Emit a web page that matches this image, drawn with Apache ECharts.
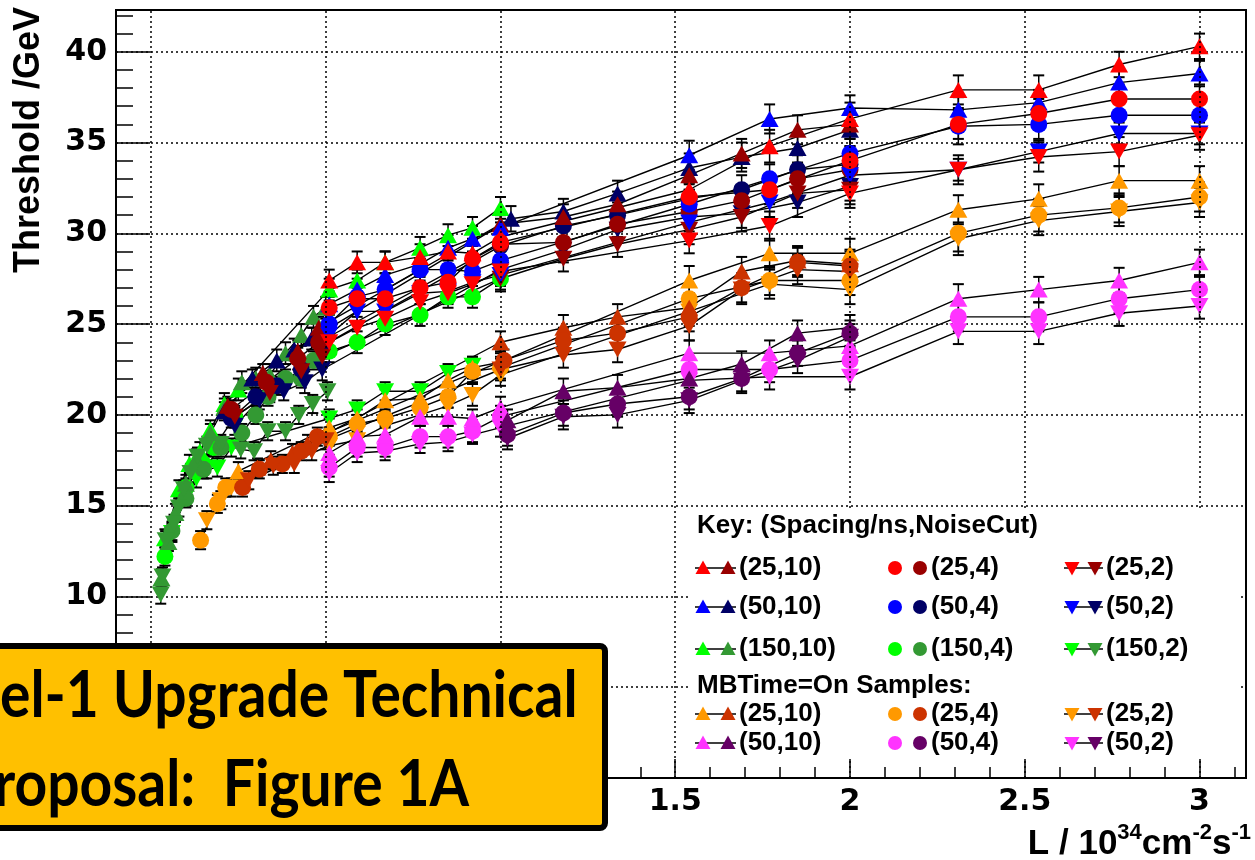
<!DOCTYPE html>
<html><head><meta charset="utf-8">
<script src="https://cdn.jsdelivr.net/npm/echarts@6/dist/echarts.min.js"></script>
<style>html,body{margin:0;padding:0;background:#fff}#c{width:1255px;height:860px}</style>
</head><body><div id="c"></div><script>
// ---------- DATA: [L (1e34 cm-2 s-1), threshold (GeV), error] ----------
// Standard samples, bright shade
const red10  = [[.51,27.4,.6],[.59,28.4,.6],[.67,28.4,.6],[.77,28.7,.7],[.85,29.0,.7],[.92,28.9,.7],[1.0,29.8,.8],[1.54,32.4,.9],[1.77,34.8,.9],[2.0,36.3,.9],[2.31,37.9,.8],[2.54,37.9,.8],[2.77,39.3,.7],[3.0,40.3,.7]];
const red4   = [[.51,25.9,.6],[.59,26.4,.6],[.67,26.4,.6],[.77,27.0,.6],[.85,27.3,.6],[.92,28.6,.7],[1.0,29.5,.7],[1.54,32.0,.8],[1.77,32.4,.8],[2.0,34.0,.8],[2.31,36.0,.8],[2.54,36.6,.8],[2.77,37.4,.8],[3.0,37.4,.8]];
const red2   = [[.51,24.0,.6],[.59,24.8,.6],[.67,25.3,.6],[.77,26.2,.6],[.85,26.7,.6],[.92,27.2,.6],[1.0,27.9,.7],[1.54,29.6,.7],[1.77,30.4,.8],[2.0,32.2,.8],[2.31,33.5,.8],[2.54,34.2,.8],[2.77,34.5,.8],[3.0,35.4,.8]];
const blue10 = [[.51,26.1,.6],[.59,26.9,.6],[.67,27.7,.6],[.77,28.3,.6],[.85,29.2,.7],[.92,29.7,.7],[1.0,30.3,.7],[1.54,34.3,.8],[1.77,36.3,.8],[2.0,36.9,.7],[2.31,36.8,.7],[2.54,37.2,.7],[2.77,38.3,.7],[3.0,38.8,.7]];
const blue4  = [[.51,25.0,.6],[.59,26.5,.6],[.67,26.9,.6],[.77,28.0,.6],[.85,28.0,.6],[.92,27.9,.6],[1.0,28.5,.7],[1.54,31.6,.8],[1.77,33.0,.8],[2.0,34.4,.8],[2.31,35.9,1.0],[2.54,36.0,.8],[2.77,36.5,.8],[3.0,36.5,.8]];
const blue2  = [[.51,24.4,.6],[.59,25.7,.6],[.67,25.7,.6],[.77,26.7,.6],[.85,26.8,.6],[.92,27.3,.6],[1.0,27.7,.6],[1.54,30.6,.7],[1.77,31.7,.8],[2.0,33.2,.8],[2.31,33.5,.6],[2.54,34.5,.6],[2.77,35.5,.6],[3.0,35.5,.6]];
const green10 = [[.04,13.2,.5],[.08,15.9,.5],[.11,17.3,.5],[.14,18.0,.5],[.17,19.2,.5],[.21,20.6,.6],[.25,21.4,.6],[.51,26.9,.6],[.59,27.4,.6],[.67,28.4,.6],[.77,29.2,.6],[.85,29.9,.6],[.92,30.3,.6],[1.0,31.4,.6]];
const green4  = [[.04,12.2,.5],[.10,16.0,.5],[.15,17.3,.5],[.18,18.2,.5],[.24,19.9,.6],[.51,23.5,.6],[.59,24.0,.6],[.67,25.0,.6],[.77,25.5,.6],[.85,26.5,.6],[.92,26.5,.6],[1.0,27.5,.6]];
const green2  = [[.06,13.5,.5],[.10,15.5,.5],[.13,16.5,.5],[.16,17.0,.5],[.19,17.1,.5],[.23,18.2,.5],[.51,19.8,.5],[.59,20.3,.5],[.67,21.3,.5],[.77,21.3,.5],[.85,22.3,.5],[.92,22.7,.5]];
// Standard samples, dark shade
const redD10 = [[.22,20.5,.5],[.32,22.3,.5],[.42,23.5,.6],[.48,24.8,.6],[1.0,30.5,.7],[1.18,30.9,.7],[1.335,31.6,.7],[1.54,33.2,.8],[1.69,34.4,.8],[1.85,35.7,.8],[2.0,36.0,.8]];
const redD4  = [[.23,20.3,.5],[.33,21.8,.5],[.42,23.1,.6],[.48,24.0,.6],[1.0,29.4,.7],[1.18,29.5,.7],[1.335,30.5,.7],[1.54,31.2,.8],[1.69,31.8,.8],[1.85,33.0,.8],[2.0,33.5,.8]];
const redD2  = [[.24,19.9,.5],[.34,21.2,.5],[.43,22.4,.6],[.49,23.2,.6],[1.0,27.5,.7],[1.18,28.6,.7],[1.335,29.4,.7],[1.54,30.2,.8],[1.69,30.9,.8],[1.85,32.2,.8],[2.0,32.4,.8]];
const navy10 = [[.21,20.2,.5],[.29,22.0,.5],[.36,23.0,.6],[.41,23.6,.6],[.46,24.2,.6],[1.03,30.8,.7],[1.18,31.2,.7],[1.335,32.2,.7],[1.54,33.6,.8],[1.69,34.2,.8],[1.85,34.7,.8],[2.0,35.7,.9]];
const navy4  = [[.23,19.8,.5],[.30,21.0,.5],[.36,21.6,.5],[.43,22.5,.6],[.49,23.8,.6],[1.0,29.3,.7],[1.18,30.4,.7],[1.335,31.0,.7],[1.54,31.9,.8],[1.69,32.4,.8],[1.85,33.5,.8],[2.0,33.8,.8]];
const navy2  = [[.24,19.4,.5],[.31,20.8,.5],[.38,21.3,.5],[.44,21.8,.6],[.49,22.5,.6],[1.0,28.0,.7],[1.18,29.1,.7],[1.335,30.2,.7],[1.54,30.9,.8],[1.69,31.1,.8],[1.85,31.7,.8],[2.0,32.6,.8]];
const greenD10 = [[.03,11.0,.5],[.05,13.0,.5],[.07,14.6,.5],[.10,16.2,.5],[.13,17.6,.5],[.17,19.0,.5],[.21,20.4,.5],[.26,21.8,.6],[.30,22.0,.6],[.34,22.2,.6],[.385,23.4,.6],[.43,24.4,.6],[.465,25.4,.6],[.50,25.9,.6]];
const greenD4  = [[.06,13.6,.5],[.10,15.4,.5],[.15,17.0,.5],[.20,18.2,.5],[.26,19.0,.5],[.30,20.0,.5],[.335,21.0,.5],[.385,22.0,.5],[.43,22.0,.5],[.465,23.0,.5]];
const greenD2  = [[.028,10.1,.5],[.033,11.1,.5],[.042,13.1,.5],[.066,14.0,.5],[.08,14.9,.5],[.094,15.9,.5],[.113,16.8,.5],[.133,17.7,.5],[.16,18.3,.5],[.20,18.4,.5],[.257,18.1,.5],[.295,18.0,.5],[.334,19.1,.5],[.385,19.1,.5],[.423,20.0,.5],[.463,20.6,.5],[.505,21.3,.5]];
// MBTime=On samples
const orange10 = [[.25,16.9,.5],[.51,19.3,.5],[.59,19.8,.5],[.67,20.8,.6],[.77,20.9,.6],[.85,21.9,.6],[.92,22.6,.6],[1.0,22.9,.6],[1.54,27.4,.8],[1.77,28.9,.8],[2.0,28.9,.8],[2.31,31.3,.8],[2.54,31.9,.8],[2.77,32.9,.8],[3.0,32.9,.8]];
const orange4  = [[.142,13.1,.5],[.19,15.1,.5],[.214,16.0,.5],[.51,18.8,.5],[.59,19.5,.5],[.67,19.8,.5],[.77,20.4,.6],[.85,21.0,.6],[.92,22.4,.6],[1.0,22.6,.6],[1.54,26.4,.8],[1.77,27.4,.8],[2.0,27.4,.8],[2.31,30.0,1.0],[2.54,31.0,.9],[2.77,31.4,.8],[3.0,32.0,.8]];
const orange2  = [[.16,14.2,.5],[.20,15.3,.5],[.23,16.0,.5],[.51,18.3,.5],[.59,18.6,.5],[.67,19.4,.5],[.77,20.0,.6],[.85,20.5,.6],[.92,21.1,.6],[1.0,22.2,.6],[1.54,25.7,.8],[1.77,27.2,.8],[2.0,26.9,.8],[2.31,29.7,.9],[2.54,30.7,.8],[2.77,31.2,.8],[3.0,31.7,.8]];
const orangeD10 = [[.305,17.1,.5],[.343,17.5,.5],[.405,17.9,.5],[.448,18.4,.5],[1.0,24.0,.6],[1.18,24.8,.7],[1.335,25.4,.7],[1.54,25.9,.8],[1.69,27.9,.8],[1.85,28.5,.8],[2.0,28.3,.8]];
const orangeD4  = [[.262,16.0,.5],[.31,17.0,.5],[.376,17.3,.5],[.43,18.0,.5],[.476,18.8,.5],[1.01,23.0,.6],[1.18,24.1,.7],[1.335,24.5,.7],[1.54,25.4,.8],[1.69,27.0,.8],[1.85,28.4,.8],[2.0,28.2,.8]];
const orangeD2  = [[.28,16.4,.5],[.35,17.2,.5],[.41,17.3,.5],[.46,18.0,.5],[.5,18.6,.5],[1.0,22.5,.6],[1.18,23.3,.7],[1.335,23.6,.7],[1.54,24.9,.8],[1.69,26.9,.8],[1.85,28.0,.8],[2.0,27.9,.8]];
const magenta10 = [[.51,17.9,.5],[.59,18.8,.5],[.67,18.9,.5],[.77,19.9,.5],[.85,19.9,.5],[.92,19.8,.5],[1.0,20.4,.6],[1.54,23.4,.7],[1.77,23.4,.7],[2.0,23.8,.7],[2.31,26.4,.8],[2.54,26.9,.7],[2.77,27.4,.7],[3.0,28.4,.7]];
const magenta4  = [[.51,17.1,.5],[.59,18.2,.5],[.67,18.2,.5],[.77,18.8,.6],[.85,18.8,.6],[.92,19.1,.6],[1.0,19.9,.6],[1.54,22.5,.7],[1.77,22.5,.7],[2.0,23.0,.7],[2.31,25.4,.8],[2.54,25.4,.8],[2.77,26.4,.8],[3.0,26.9,.7]];
const magenta2  = [[.51,16.8,.5],[.59,17.9,.5],[.67,18.0,.5],[.77,18.4,.5],[.85,18.5,.5],[.92,18.9,.5],[1.0,19.3,.5],[1.54,21.9,.7],[1.77,22.1,.7],[2.0,22.1,.7],[2.31,24.6,.7],[2.54,24.6,.7],[2.77,25.6,.7],[3.0,26.0,.7]];
const purple10 = [[1.02,19.7,.6],[1.18,21.3,.7],[1.335,21.5,.7],[1.54,22.0,.7],[1.69,22.8,.7],[1.85,24.5,.7],[2.0,24.8,.7]];
const purple4  = [[1.02,18.9,.6],[1.18,20.1,.7],[1.335,20.6,.7],[1.54,21.0,.7],[1.69,22.0,.7],[1.85,23.4,.7],[2.0,24.5,.7]];
const purple2  = [[1.02,18.7,.6],[1.18,19.9,.7],[1.335,20.0,.7],[1.54,20.8,.7],[1.69,21.9,.7],[1.85,23.0,.7],[2.0,24.3,.7]];

// axis ticks and texts
const xMajorTicks = [0, 0.5, 1, 1.5, 2, 2.5, 3];
const yTitle = 'Threshold /GeV';
const keyTitle = 'Key: (Spacing/ns,NoiseCut)';
const mbTitle = 'MBTime=On Samples:';
const legendStd = [['(25,10)','(25,4)','(25,2)'],['(50,10)','(50,4)','(50,2)'],['(150,10)','(150,4)','(150,2)']];
const legendMB  = [['(25,10)','(25,4)','(25,2)'],['(50,10)','(50,4)','(50,2)']];
const bannerLines = ['el-1 Upgrade Technical', 'roposal:  Figure 1A'];

// ---------- STYLE ----------
const C = {red:'#ff0000', dred:'#990000', blue:'#0000ff', navy:'#000066', green:'#00ff00', dgreen:'#339933',
           orange:'#ff9900', dorange:'#cc3300', mag:'#ff33ff', purple:'#660066'};
const SETS = [
  [green10,C.green,'up'],[green4,C.green,'o'],[green2,C.green,'dn'],
  [greenD10,C.dgreen,'up'],[greenD4,C.dgreen,'o'],[greenD2,C.dgreen,'dn'],
  [orange10,C.orange,'up'],[orange4,C.orange,'o'],[orange2,C.orange,'dn'],
  [orangeD10,C.dorange,'up'],[orangeD4,C.dorange,'o'],[orangeD2,C.dorange,'dn'],
  [magenta10,C.mag,'up'],[magenta4,C.mag,'o'],[magenta2,C.mag,'dn'],
  [purple10,C.purple,'up'],[purple4,C.purple,'o'],[purple2,C.purple,'dn'],
  [navy10,C.navy,'up'],[navy4,C.navy,'o'],[navy2,C.navy,'dn'],
  [redD10,C.dred,'up'],[redD4,C.dred,'o'],[redD2,C.dred,'dn'],
  [blue10,C.blue,'up'],[blue4,C.blue,'o'],[blue2,C.blue,'dn'],
  [red10,C.red,'up'],[red4,C.red,'o'],[red2,C.red,'dn']
];

const series = [];
SETS.forEach(([d, col, shp], i) => {
  series.push({type:'line', data:d.map(p=>[p[0],p[1]]), showSymbol:false, symbol:'none', z:2, silent:true,
    lineStyle:{color:'#000', width:1.4}, animation:false});
});
SETS.forEach(([d, col, shp]) => {
  series.push({type:'custom', data:d, z:3, silent:true, animation:false, encode:{x:0,y:1},
    renderItem:(params, api) => {
      const x = api.value(0), y = api.value(1), e = api.value(2);
      const t = api.coord([x, y+e]), b = api.coord([x, y-e]);
      const w = 5.5;
      return {type:'group', children:[
        {type:'line', shape:{x1:t[0],y1:t[1],x2:b[0],y2:b[1]}, style:{stroke:'#000', lineWidth:1.5}},
        {type:'line', shape:{x1:t[0]-w,y1:t[1],x2:t[0]+w,y2:t[1]}, style:{stroke:'#000', lineWidth:2}},
        {type:'line', shape:{x1:b[0]-w,y1:b[1],x2:b[0]+w,y2:b[1]}, style:{stroke:'#000', lineWidth:2}}
      ]};
    }});
});
SETS.forEach(([d, col, shp]) => {
  series.push({type:'scatter', data:d.map(p=>[p[0],p[1]]), z:4, silent:true, animation:false,
    symbol: shp === 'o' ? 'circle' : 'triangle',
    symbolSize: shp === 'o' ? 17 : [18, 16],
    symbolRotate: shp === 'dn' ? 180 : 0,
    itemStyle:{color:col, opacity:1}});
});
// dotted vertical grid lines at major x ticks
series.push({type:'scatter', data:[], silent:true, animation:false, z:1,
  markLine:{silent:true, symbol:'none', animation:false, label:{show:false},
    lineStyle:{color:'#000', type:[2,3], width:1.5},
    data: xMajorTicks.map(v => ({xAxis:v}))}});

// ---------- GRAPHIC: titles, legend, banner ----------
const LF = 'bold 26px "Liberation Sans", Arial, sans-serif';
const graphic = [];
graphic.push({type:'text', x:29, y:140, rotation:Math.PI/2, z:50,
  style:{text:yTitle, font:'bold 36px "Liberation Sans", Arial, sans-serif', fill:'#000', textAlign:'center', textVerticalAlign:'middle'}});
graphic.push({type:'text', x:1251, y:842, z:50,
  style:{text:'{b|L / 10}{s|34}{b|cm}{s|-2}{b|s}{s|-1}', textAlign:'right', textVerticalAlign:'middle',
    rich:{b:{font:'bold 35px "Liberation Sans", Arial, sans-serif', fill:'#000', lineHeight:40, verticalAlign:'bottom'},
          s:{font:'bold 22px "Liberation Sans", Arial, sans-serif', fill:'#000', lineHeight:40, verticalAlign:'top'}}}});
// legend panel
graphic.push({type:'rect', z:20, shape:{x:690, y:509, width:548, height:249}, style:{fill:'#fff'}});
graphic.push({type:'text', z:21, x:697, y:526, style:{text:keyTitle, font:LF, fill:'#000', textVerticalAlign:'middle'}});
graphic.push({type:'text', z:21, x:697, y:686, style:{text:mbTitle, font:LF, fill:'#000', textVerticalAlign:'middle'}});
const colX = [[703,728,739],[895,920,931],[1072,1095,1106]];
const shapes = ['up','o','dn'];
function marker(shp, cx, cy, col) {
  if (shp === 'o') return {type:'circle', z:22, shape:{cx, cy, r:7}, style:{fill:col}};
  const pts = shp === 'up' ? [[cx-7.5,cy+6],[cx+7.5,cy+6],[cx,cy-7.5]] : [[cx-7.5,cy-6],[cx+7.5,cy-6],[cx,cy+7.5]];
  return {type:'polygon', z:22, shape:{points:pts}, style:{fill:col}};
}
function legendRow(labels, cols, y) {
  labels.forEach((lab, k) => {
    const [m1, m2, tx] = colX[k];
    if (shapes[k] !== 'o')
      graphic.push({type:'line', z:21, shape:{x1:m1-8, y1:y, x2:m2+8, y2:y}, style:{stroke:'#000', lineWidth:1.5}});
    graphic.push(marker(shapes[k], m1, y, cols[0]));
    graphic.push(marker(shapes[k], m2, y, cols[1]));
    graphic.push({type:'text', z:21, x:tx, y:y, style:{text:lab, font:LF, fill:'#000', textVerticalAlign:'middle'}});
  });
}
const stdCols = [[C.red,C.dred],[C.blue,C.navy],[C.green,C.dgreen]];
const mbCols = [[C.orange,C.dorange],[C.mag,C.purple]];
[568, 607, 649].forEach((y, r) => legendRow(legendStd[r], stdCols[r], y));
[714, 743].forEach((y, r) => legendRow(legendMB[r], mbCols[r], y));
// banner
graphic.push({type:'rect', z:100, shape:{x:-12, y:646, width:617, height:182, r:5},
  style:{fill:'#FFC000', stroke:'#000', lineWidth:6}});
graphic.push({type:'text', z:101, x:0, y:696, scaleY:1.15,
  style:{text:bannerLines[0], font:'bold 57px Lato, "Open Sans", sans-serif', fill:'#000', textVerticalAlign:'middle'}});
graphic.push({type:'text', z:101, x:-6, y:785, scaleY:1.15,
  style:{text:bannerLines[1], font:'bold 57px Lato, "Open Sans", sans-serif', fill:'#000', textVerticalAlign:'middle'}});

const tickFont = {fontFamily:'DejaVu Sans', fontWeight:'bold', fontSize:30, color:'#000'};
const option = {
  backgroundColor:'#fff',
  animation:false,
  textStyle:{fontFamily:'"Liberation Sans", Arial, sans-serif'},
  grid:{left:116, right:9, top:10, bottom:82, show:true, borderColor:'#000', borderWidth:2, backgroundColor:'transparent', outerBoundsMode:'none'},
  xAxis:[
    {type:'value', min:-0.1, max:3.133, interval:0.1, position:'bottom',
     axisLine:{show:true, onZero:false, lineStyle:{color:'#000', width:2}},
     axisTick:{show:true, inside:true, length:11, lineStyle:{color:'#000', width:1.5}},
     axisLabel:Object.assign({show:true, margin:9, formatter:v => {
        const h = v*2; if (Math.abs(h - Math.round(h)) > 1e-6 || v < -1e-6 || v > 3.001) return '';
        return String(Math.round(h)/2);
     }}, tickFont),
     splitLine:{show:false}},
    {type:'value', min:-0.1, max:3.133, position:'bottom',
     axisLine:{show:false, onZero:false},
     axisTick:{show:true, inside:true, length:19, customValues:xMajorTicks, lineStyle:{color:'#000', width:1.5}},
     axisLabel:{show:false}, splitLine:{show:false}}
  ],
  yAxis:{type:'value', min:0, max:42.3, interval:5,
    axisLine:{show:true, onZero:false, lineStyle:{color:'#000', width:2}},
    axisTick:{show:true, inside:true, length:34, lineStyle:{color:'#000', width:1.5}},
    minorTick:{show:true, splitNumber:5, length:17, lineStyle:{color:'#000', width:1.5}},
    axisLabel:Object.assign({margin:9, showMaxLabel:false}, tickFont),
    splitLine:{show:true, lineStyle:{color:'#000', type:[2,3], width:1.5}}},
  series: series,
  graphic: graphic
};
const chart = echarts.init(document.getElementById('c'));
chart.setOption(option);
</script></body></html>
